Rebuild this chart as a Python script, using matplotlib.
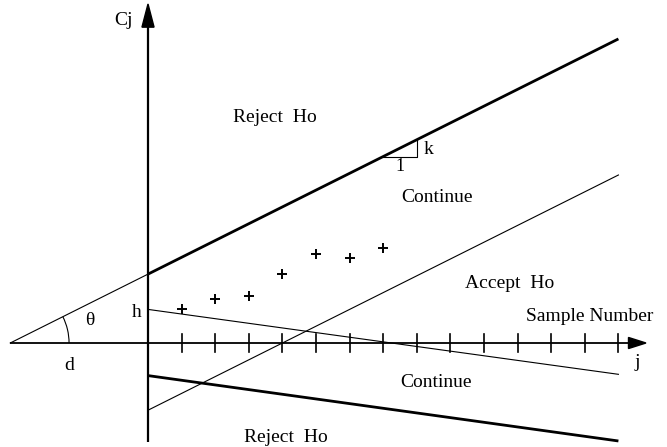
import numpy as np
import matplotlib
matplotlib.use("Agg")
import matplotlib.pyplot as plt
from matplotlib.patches import Arc, Polygon

# ---- data ----
sample_j = [1, 2, 3, 4, 5, 6, 7]
cj_values = [1.01, 1.31, 1.40, 2.05, 2.65, 2.53, 2.83]
tick_positions = list(range(1, 15))

# boundary line parameters (intercept at j=0, slope per sample)
reject_upper_intercept = 2.05
slope_k = 0.5
accept_intercept = -2.0
h_intercept = 1.0
h_slope = -0.138
reject_lower_intercept = -0.97
reject_lower_slope = -0.139
j_end = 14

plt.rcParams['font.family'] = ['Liberation Serif', 'DejaVu Serif']

fig = plt.figure(figsize=(6.67, 4.47), dpi=100)
ax = fig.add_axes([0, 0, 1, 1])
ax.set_xlim(-4.405, 15.446)
ax.set_ylim(-3.095, 10.208)
ax.axis('off')

d = reject_upper_intercept / slope_k

# axes
ax.plot([-d, 14.35], [0, 0], color='k', lw=1.3, solid_capstyle='butt')
ax.plot([0, 0], [-2.96, 9.45], color='k', lw=1.6, solid_capstyle='butt')
ax.add_patch(Polygon([[14.82, 0], [14.30, 0.165], [14.30, -0.165]], closed=True, color='k'))
ax.add_patch(Polygon([[0, 10.09], [-0.18, 9.40], [0.18, 9.40]], closed=True, color='k'))

# ticks
for t in tick_positions:
    ax.plot([t, t], [-0.26, 0.26], color='k', lw=1.2)

# upper reject line (thick) + thin extension back to -d
jj = np.array([0, j_end])
ax.plot(jj, reject_upper_intercept + slope_k * jj, color='k', lw=2.0, solid_capstyle='butt')
ax.plot([-d, 0], [0, reject_upper_intercept], color='k', lw=0.8)

# accept line (thin, parallel)
ax.plot(jj, accept_intercept + slope_k * jj, color='k', lw=0.8)

# h line (thin)
ax.plot(jj, h_intercept + h_slope * jj, color='k', lw=0.8)

# lower reject line (thick)
ax.plot(jj, reject_lower_intercept + reject_lower_slope * jj, color='k', lw=2.0, solid_capstyle='butt')

# slope triangle
j0 = 7
y0 = reject_upper_intercept + slope_k * j0
ax.plot([j0, j0 + 1, j0 + 1], [y0, y0, y0 + slope_k], color='k', lw=0.8)
ax.text(j0 + 0.5, y0 - 0.05, '1', ha='center', va='top', fontsize=13)
ax.text(j0 + 1.2, y0 + 0.2, 'k', ha='left', va='center', fontsize=14)

# angle arc
theta_deg = np.degrees(np.arctan(slope_k))
ax.add_patch(Arc((-d, 0), 3.5, 3.5, theta1=0, theta2=theta_deg, color='k', lw=0.8))

# observed points
ax.plot(sample_j, cj_values, linestyle='none', marker='+', color='k', markersize=7, mew=1.4)

fs = 14
ax.text(-0.74, 9.61, 'Cj', ha='center', va='center', fontsize=fs)
ax.text(3.78, 6.70, 'Reject  Ho', ha='center', va='center', fontsize=fs)
ax.text(8.60, 4.32, 'Continue', ha='center', va='center', fontsize=fs)
ax.text(10.77, 1.76, 'Accept  Ho', ha='center', va='center', fontsize=fs)
ax.text(13.15, 0.80, 'Sample Number', ha='center', va='center', fontsize=fs)
ax.text(14.55, -0.57, 'j', ha='center', va='center', fontsize=fs)
ax.text(8.57, -1.19, 'Continue', ha='center', va='center', fontsize=fs)
ax.text(4.11, -2.80, 'Reject  Ho', ha='center', va='center', fontsize=fs)
ax.text(-2.35, -0.68, 'd', ha='center', va='center', fontsize=fs)
ax.text(-0.33, 0.92, 'h', ha='center', va='center', fontsize=fs)
ax.text(-1.73, 0.68, 'θ', ha='center', va='center', fontsize=fs)

fig.savefig('out.png', dpi=100)
